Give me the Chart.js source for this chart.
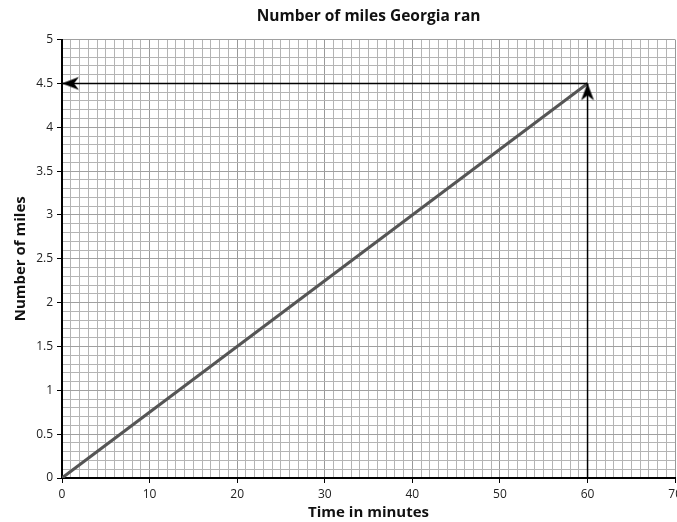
<!DOCTYPE html>
<html>
<head>
<meta charset="utf-8">
<script src="https://cdn.jsdelivr.net/npm/chart.js@4"></script>
<style>
  html, body { margin: 0; padding: 0; background: #fff; overflow: hidden; }
  #wrap { width: 686px; height: 522px; position: relative; }
</style>
</head>
<body>
<div id="wrap"><canvas id="milesChart"></canvas></div>
<script>
const milesCanvas = document.getElementById('milesChart')

// data
const minutes = [0, 60]
const miles = [0, 4.5]
const xTickLabels = [0, 10, 20, 30, 40, 50, 60, 70]
const yTickLabels = [0, 0.5, 1, 1.5, 2, 2.5, 3, 3.5, 4, 4.5, 5]
// reading arrows: from 60 min up to the line, then across to the miles axis
const readUpX = [60, 60]
const readUpY = [0, 4.5]
const readAcrossX = [60, 0]
const readAcrossY = [4.5, 4.5]

const fontName = '"Open Sans", Lato, sans-serif'

// arrowhead image, tip at the centre, pointing right
function makeArrowHead() {
    const c = document.createElement('canvas')
    c.width = 36
    c.height = 36
    const g = c.getContext('2d')
    g.fillStyle = '#000'
    g.beginPath()
    g.moveTo(18, 18)
    g.lineTo(1, 11.5)
    g.lineTo(6, 18)
    g.lineTo(1, 24.5)
    g.closePath()
    g.fill()
    return c
}
const arrowHead = makeArrowHead()

function toPoints(xs, ys) {
    return xs.map((x, i) => ({ x: x, y: ys[i] }))
}

const isXLabel = v => xTickLabels.some(t => Math.abs(t - v) < 1e-6)
const isYLabel = v => yTickLabels.some(t => Math.abs(t - v) < 1e-6)

const dataLine = {
    label: 'Miles',
    data: toPoints(minutes, miles),
    borderColor: '#555555',
    borderWidth: 3,
    pointRadius: 0,
    fill: false,
    order: 1
}

const arrowUp = {
    label: 'up',
    data: toPoints(readUpX, readUpY),
    borderColor: '#000',
    borderWidth: 1.5,
    pointRadius: [0, 6],
    pointStyle: arrowHead,
    pointRotation: -90,
    fill: false,
    order: 0
}

const arrowAcross = {
    label: 'across',
    data: toPoints(readAcrossX, readAcrossY),
    borderColor: '#000',
    borderWidth: 1.5,
    pointRadius: [0, 6],
    pointStyle: arrowHead,
    pointRotation: 180,
    fill: false,
    order: 0
}

const config = {
    type: 'line',
    data: { datasets: [dataLine, arrowUp, arrowAcross] },
    options: {
        responsive: true,
        maintainAspectRatio: false,
        animation: false,
        layout: { padding: 0 },
        plugins: {
            legend: { display: false },
            tooltip: { enabled: false },
            title: {
                display: true,
                text: 'Number of miles Georgia ran',
                fullSize: false,
                color: '#111',
                font: { family: fontName, size: 15.5, weight: 'bold' },
                padding: { top: 7, bottom: 14 }
            }
        },
        scales: {
            x: {
                type: 'linear',
                min: 0,
                max: 70,
                afterFit: s => { s.height = 44 },
                ticks: {
                    stepSize: 1,
                    autoSkip: false,
                    maxTicksLimit: 1000,
                    maxRotation: 0,
                    padding: 4,
                    color: '#222',
                    font: { family: fontName, size: 12 },
                    callback: v => isXLabel(v) ? String(Math.round(v)) : ''
                },
                grid: {
                    color: ctx => isXLabel(ctx.tick.value) ? '#999999' : '#b4b4b4',
                    lineWidth: 1,
                    tickLength: 5,
                    tickColor: ctx => isXLabel(ctx.tick.value) ? '#000' : 'rgba(0,0,0,0)'
                },
                border: { color: '#000', width: 2 },
                title: {
                    display: true,
                    text: 'Time in minutes',
                    color: '#111',
                    font: { family: fontName, size: 15, weight: 'bold' },
                    padding: { top: 0, bottom: 0 }
                }
            },
            y: {
                type: 'linear',
                min: 0,
                max: 5,
                afterFit: s => { s.width = 62 },
                ticks: {
                    stepSize: 0.1,
                    autoSkip: false,
                    maxTicksLimit: 1000,
                    padding: 4,
                    color: '#222',
                    font: { family: fontName, size: 12 },
                    callback: v => isYLabel(v) ? String(Math.round(v * 10) / 10) : ''
                },
                grid: {
                    color: ctx => isYLabel(ctx.tick.value) ? '#a0a0a0' : '#b4b4b4',
                    lineWidth: 1,
                    tickLength: 5,
                    tickColor: ctx => isYLabel(ctx.tick.value) ? '#000' : 'rgba(0,0,0,0)'
                },
                border: { color: '#000', width: 2 },
                title: {
                    display: true,
                    text: 'Number of miles',
                    color: '#111',
                    font: { family: fontName, size: 15, weight: 'bold' },
                    padding: { top: 12, bottom: 4 }
                }
            }
        }
    }
}

new Chart(milesCanvas, config)
</script>
</body>
</html>
